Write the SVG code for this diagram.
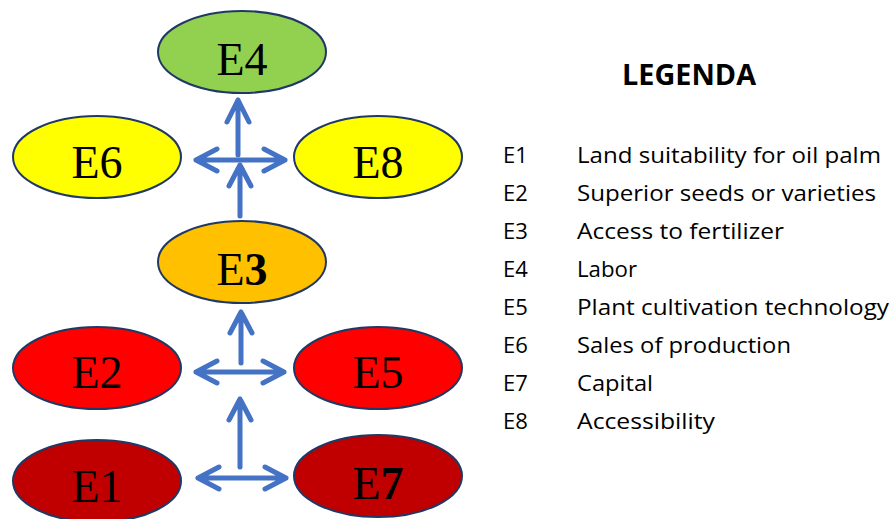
<svg xmlns="http://www.w3.org/2000/svg" width="892" height="519" viewBox="0 0 892 519">
<style>
.node ellipse{stroke:#203864;stroke-width:2}
.lbl{font-family:"Liberation Serif","Times New Roman",serif;font-size:46px;fill:#000;text-anchor:middle}
.conn path{fill:none;stroke:#4472C4;stroke-width:5;stroke-linecap:round;stroke-linejoin:round}
.leg{font-family:"Open Sans","Liberation Sans",sans-serif;font-size:22px;fill:#000}
.title{font-family:"Open Sans","Liberation Sans",sans-serif;font-size:28px;font-weight:bold;fill:#000}
</style>
<rect width="892" height="519" fill="#fff"/>
<g id="E4" class="node"><ellipse cx="242" cy="52" rx="84" ry="41" fill="#92D050"/><text class="lbl" x="242" y="75">E4</text></g>
<g id="E6" class="node"><ellipse cx="97" cy="157" rx="84" ry="41" fill="#FFFF00"/><text class="lbl" x="97" y="178">E6</text></g>
<g id="E8" class="node"><ellipse cx="378" cy="157" rx="84" ry="41" fill="#FFFF00"/><text class="lbl" x="378" y="178">E8</text></g>
<g id="E3" class="node"><ellipse cx="242" cy="262" rx="84" ry="41" fill="#FFC000"/><text class="lbl" x="242" y="285">E<tspan font-weight="bold">3</tspan></text></g>
<g id="E2" class="node"><ellipse cx="97" cy="368" rx="84" ry="41" fill="#FF0000"/><text class="lbl" x="97" y="388">E2</text></g>
<g id="E5" class="node"><ellipse cx="378" cy="368" rx="84" ry="41" fill="#FF0000"/><text class="lbl" x="378" y="388">E5</text></g>
<g id="E1" class="node"><ellipse cx="97" cy="481" rx="84" ry="41" fill="#C00000"/><text class="lbl" x="97" y="502">E1</text></g>
<g id="E7" class="node"><ellipse cx="378" cy="476" rx="84" ry="41" fill="#C00000"/><text class="lbl" x="378" y="499">E<tspan font-weight="bold">7</tspan></text></g>
<g id="connectors" class="conn">
<path d="M238 155 L238 100 M227 122 L238 100 L249 122"/>
<path d="M240 216 L240 165 M229 186 L240 165 L251 186"/>
<path d="M196 160 L285 160 M217 149 L196 160 L217 171 M264 149 L285 160 L264 171"/>
<path d="M241 363 L241 312 M230 333 L241 312 L252 333"/>
<path d="M196 372 L284 372 M217 361 L196 372 L217 383 M263 361 L284 372 L263 383"/>
<path d="M240 467 L240 399 M229 420 L240 399 L251 420"/>
<path d="M198 478 L286 478 M219 467 L198 478 L219 489 M265 467 L286 478 L265 489"/>
</g>
<g id="legend">
<text class="title" x="622" y="85" textLength="134" lengthAdjust="spacingAndGlyphs">LEGENDA</text>
<g class="leg">
<text x="503" y="163">E1</text><text x="577" y="163" textLength="304" lengthAdjust="spacingAndGlyphs">Land suitability for oil palm</text>
<text x="503" y="201">E2</text><text x="577" y="201" textLength="299" lengthAdjust="spacingAndGlyphs">Superior seeds or varieties</text>
<text x="503" y="239">E3</text><text x="577" y="239" textLength="207" lengthAdjust="spacingAndGlyphs">Access to fertilizer</text>
<text x="503" y="277">E4</text><text x="577" y="277" textLength="60" lengthAdjust="spacingAndGlyphs">Labor</text>
<text x="503" y="315">E5</text><text x="577" y="315" textLength="312" lengthAdjust="spacingAndGlyphs">Plant cultivation technology</text>
<text x="503" y="353">E6</text><text x="577" y="353" textLength="214" lengthAdjust="spacingAndGlyphs">Sales of production</text>
<text x="503" y="391">E7</text><text x="577" y="391" textLength="76" lengthAdjust="spacingAndGlyphs">Capital</text>
<text x="503" y="429">E8</text><text x="577" y="429" textLength="138" lengthAdjust="spacingAndGlyphs">Accessibility</text>
</g>
</g>
</svg>
